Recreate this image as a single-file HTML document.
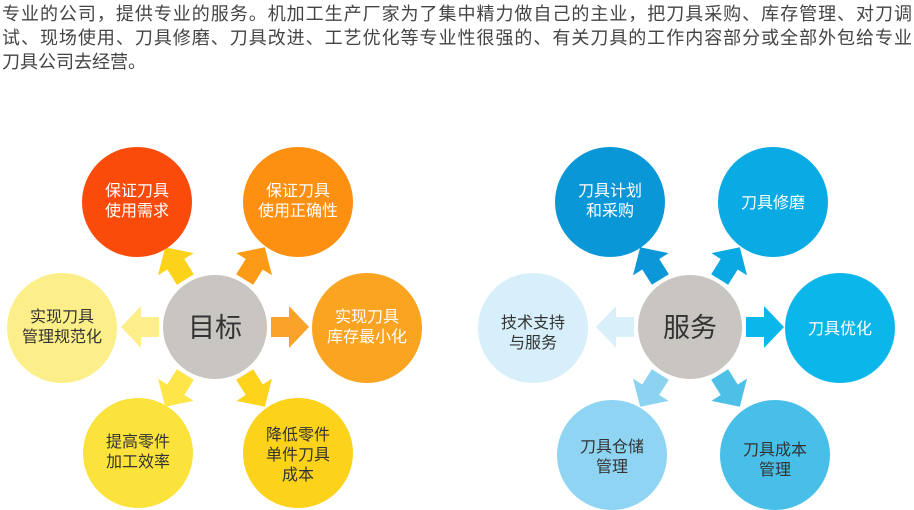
<!DOCTYPE html>
<html><head><meta charset="utf-8"><style>
body{margin:0;width:914px;height:510px;background:#fff;overflow:hidden;font-family:"Liberation Sans","Noto Sans CJK SC",sans-serif;}
.t{position:absolute;left:2px;width:910px;font-size:18px;color:#444;line-height:24px;text-align:justify;text-align-last:justify;white-space:nowrap;}
</style></head><body>
<div class="t" style="top:2px">专业的公司，提供专业的服务。机加工生产厂家为了集中精力做自己的主业，把刀具采购、库存管理、对刀调</div>
<div class="t" style="top:26px">试、现场使用、刀具修磨、刀具改进、工艺优化等专业性很强的、有关刀具的工作内容部分或全部外包给专业</div>
<div class="t" style="top:50px;text-align-last:left">刀具公司去经营。</div>
<svg width="914" height="510" style="position:absolute;left:0;top:0" font-family="Liberation Sans, Noto Sans CJK SC, sans-serif">
<defs><polygon id="ar" points="0,-10 18,-10 18,-21 38,0 18,21 18,10 0,10"/></defs>
<g transform="translate(215,327)">
<use href="#ar" fill="#fcd31a" transform="rotate(-122) translate(56,0)"/>
<use href="#ar" fill="#fd9a15" transform="rotate(-58) translate(56,0)"/>
<use href="#ar" fill="#fba22a" transform="rotate(0) translate(56,0)"/>
<use href="#ar" fill="#fdee8a" transform="rotate(180) translate(56,0)"/>
<use href="#ar" fill="#fde54a" transform="rotate(122) translate(56,0)"/>
<use href="#ar" fill="#fdd31c" transform="rotate(58) translate(56,0)"/>
</g>
<g transform="translate(690,327)">
<use href="#ar" fill="#0b97d8" transform="rotate(-122) translate(56,0)"/>
<use href="#ar" fill="#0aa9e3" transform="rotate(-58) translate(56,0)"/>
<use href="#ar" fill="#0bb6ea" transform="rotate(0) translate(56,0)"/>
<use href="#ar" fill="#d9f0fa" transform="rotate(180) translate(56,0)"/>
<use href="#ar" fill="#8cd3f2" transform="rotate(122) translate(56,0)"/>
<use href="#ar" fill="#4ec0e8" transform="rotate(58) translate(56,0)"/>
</g>
<circle cx="215" cy="327" r="52" fill="#c9c5c1"/>
<circle cx="137" cy="202" r="55" fill="#fb4b0a"/>
<circle cx="298" cy="202" r="55" fill="#fd8f11"/>
<circle cx="62" cy="328" r="55" fill="#fcee88"/>
<circle cx="367" cy="328" r="55" fill="#fba422"/>
<circle cx="138" cy="453" r="55" fill="#fce33c"/>
<circle cx="298" cy="453" r="55" fill="#fdd21a"/>
<circle cx="690" cy="327" r="52" fill="#c9c5c1"/>
<circle cx="610" cy="202" r="55" fill="#0a97d8"/>
<circle cx="773" cy="202" r="55" fill="#0aaae4"/>
<circle cx="533" cy="328" r="55" fill="#d6effa"/>
<circle cx="840" cy="328" r="55" fill="#0bb7ea"/>
<circle cx="612" cy="455" r="55" fill="#8fd4f2"/>
<circle cx="775" cy="455" r="55" fill="#48bfe8"/>
<g font-size="16" text-anchor="middle">
<text x="215" y="337" font-size="27" fill="#333">目标</text>
<text x="137" y="196" fill="#fff">保证刀具</text><text x="137" y="216" fill="#fff">使用需求</text>
<text x="298" y="196" fill="#fff">保证刀具</text><text x="298" y="216" fill="#fff">使用正确性</text>
<text x="62" y="322" fill="#333">实现刀具</text><text x="62" y="342" fill="#333">管理规范化</text>
<text x="367" y="322" fill="#fff">实现刀具</text><text x="367" y="342" fill="#fff">库存最小化</text>
<text x="138" y="447" fill="#333">提高零件</text><text x="138" y="467" fill="#333">加工效率</text>
<text x="298" y="440" fill="#333">降低零件</text><text x="298" y="460" fill="#333">单件刀具</text><text x="298" y="480" fill="#333">成本</text>
<text x="690" y="337" font-size="27" fill="#333">服务</text>
<text x="610" y="196" fill="#fff">刀具计划</text><text x="610" y="216" fill="#fff">和采购</text>
<text x="773" y="208" fill="#fff">刀具修磨</text>
<text x="840" y="334" fill="#fff">刀具优化</text>
<text x="533" y="328" fill="#333">技术支持</text><text x="533" y="348" fill="#333">与服务</text>
<text x="612" y="452" fill="#333">刀具仓储</text><text x="612" y="472" fill="#333">管理</text>
<text x="775" y="455" fill="#333">刀具成本</text><text x="775" y="475" fill="#333">管理</text>
</g>
</svg>
</body></html>
